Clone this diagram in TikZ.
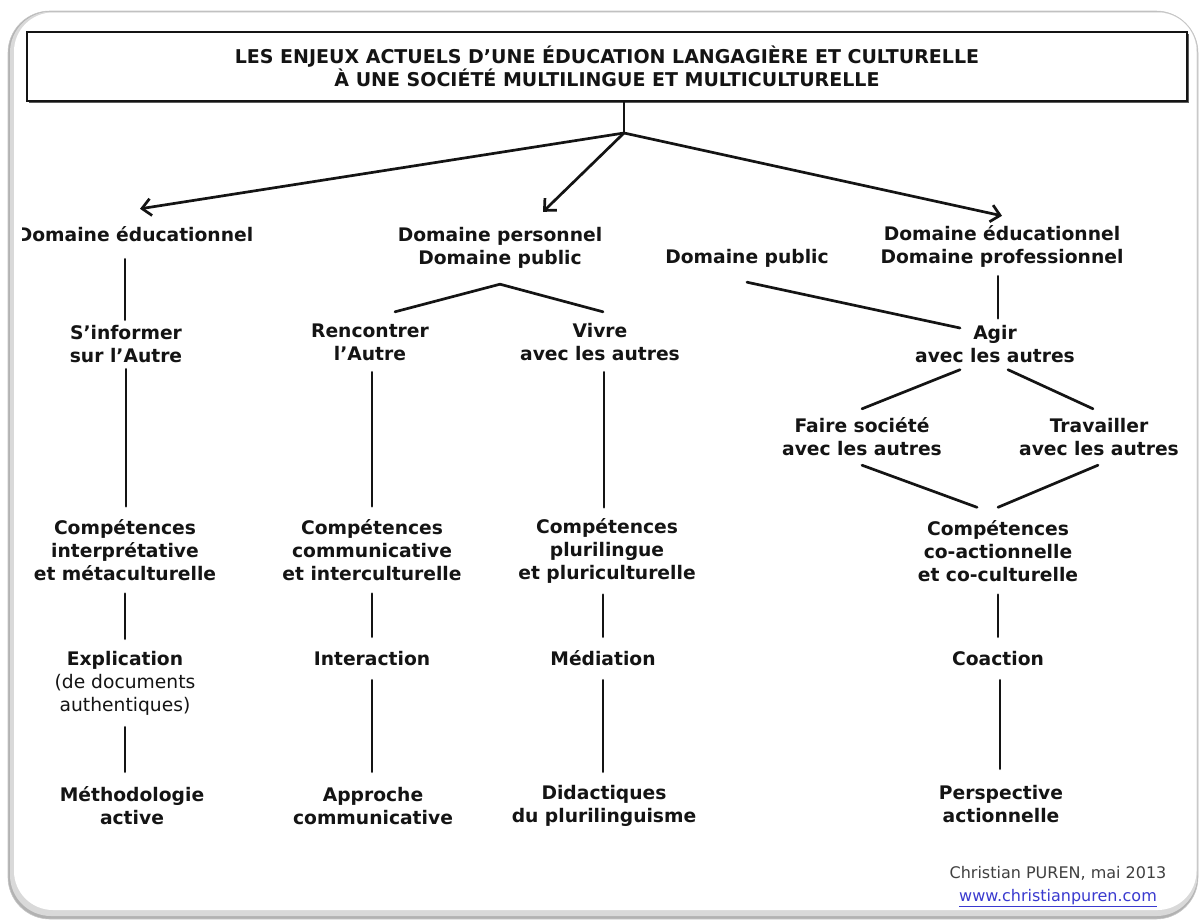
\documentclass[tikz,border=0pt]{standalone}
\usepackage{fontspec}
\setmainfont{DejaVu Sans}
\usetikzlibrary{arrows.meta,calc}
\newcommand\lblfont{\fontsize{18.7}{23}\selectfont\bfseries}
\newcommand\ttlfont{\fontsize{19}{23}\selectfont\bfseries}
\newcommand\crfont{\fontsize{16}{20}\selectfont}
\definecolor{ink}{HTML}{141414}
\definecolor{urlblue}{HTML}{3A3ACF}
\begin{document}
\begin{tikzpicture}[x=1pt,y=-1pt,
  lbl/.style={inner sep=0pt, align=center, font=\lblfont, text=ink},
  titlebox/.style={draw=ink, line width=2.8pt, fill=white, inner sep=0pt, align=center,
    font=\ttlfont, text=ink, minimum width=1160pt, minimum height=69pt},
  conn/.style={line width=2.7pt, draw=ink, line cap=round},
  arr/.style={conn, -{Straight Barb[length=9pt,width=17pt]}},
  credit/.style={inner sep=0pt, font=\crfont, text=black!75}]
\useasboundingbox (0,0) rectangle (1200,922);
% outer frame with soft shadow
\fill[gray!60, rounded corners=42pt] (8,11) rectangle (1198,919);
\fill[gray!30, rounded corners=41pt] (10,11.5) rectangle (1197.5,916);
\fill[white, rounded corners=39pt] (14,12.5) rectangle (1196.5,910);
\draw[gray!45, line width=0.6pt, rounded corners=42pt] (8,11) rectangle (1198,919);
\begin{scope}
\clip (22,0) rectangle (1200,922);
% title
\fill[ink!70] (29,34) rectangle (1189,103);
\node[titlebox] (T) at (607,66.5) {LES ENJEUX ACTUELS D’UNE ÉDUCATION LANGAGIÈRE ET CULTURELLE\\À UNE SOCIÉTÉ MULTILINGUE ET MULTICULTURELLE};
\coordinate (j0) at (624,133);
% column A
\node[lbl, minimum height=50pt] (A1) at (135,234) {Domaine éducationnel};
\node[lbl, minimum height=49pt] (A2) at (126,344.5) {S’informer\\sur l’Autre};
\node[lbl, minimum height=87pt] (A3) at (125,550) {Compétences\\interprétative\\et métaculturelle};
\node[lbl, minimum height=88pt] (A4) at (125,683) {Explication\\{\mdseries (de documents}\\{\mdseries authentiques)}};
\node[lbl, minimum height=68pt] (A5) at (132,806) {Méthodologie\\active};
% column B / C
\node[lbl, minimum height=72pt] (B1) at (500,248) {Domaine personnel\\Domaine public};
\node[lbl, minimum height=60pt] (B2) at (370,342) {Rencontrer\\l’Autre};
\node[lbl, minimum height=60pt] (B3) at (600,342) {Vivre\\avec les autres};
\node[lbl, minimum height=87pt] (B4) at (372,550) {Compétences\\communicative\\et interculturelle};
\node[lbl, minimum height=43pt] (B5) at (372,658.5) {Interaction};
\node[lbl, minimum height=68pt] (B6) at (373,806) {Approche\\communicative};
\node[lbl, minimum height=87pt] (C4) at (607,551) {Compétences\\plurilingue\\et pluriculturelle};
\node[lbl, minimum height=43pt] (C5) at (603,658.5) {Médiation};
\node[lbl, minimum height=68pt] (C6) at (604,806) {Didactiques\\du plurilinguisme};
% column D
\node[lbl, minimum height=48pt] (D0) at (747,258) {Domaine public};
\node[lbl, minimum height=60pt] (D1) at (1002,246) {Domaine éducationnel\\Domaine professionnel};
\node[lbl, minimum height=51pt] (D2) at (995,344) {Agir\\avec les autres};
\node[lbl, minimum height=56pt] (D3) at (862,437) {Faire société\\avec les autres};
\node[lbl, minimum height=56pt] (D4) at (1099,437) {Travailler\\avec les autres};
\node[lbl, minimum height=87pt] (D5) at (998,551) {Compétences\\co-actionnelle\\et co-culturelle};
\node[lbl, minimum height=43pt] (D6) at (998,658.5) {Coaction};
\node[lbl, minimum height=70pt] (D7) at (1001,804) {Perspective\\actionnelle};
% credit
\node[credit] (cr) at (1058,873) {Christian PUREN, mai 2013};
\node[credit, text=urlblue] (url) at (1058,898) {\underline{www.christianpuren.com}};
% connectors
\draw[conn] ([xshift=17pt]T.south) -- (j0);
\draw[arr] (j0) -- ([xshift=5pt]A1.north);
\draw[arr] (j0) -- ([xshift=43pt]B1.north);
\draw[arr] (j0) -- (D1.north);
\draw[conn] ([xshift=-10pt]A1.south) -- ([xshift=-10pt]A1.south |- A2.north);
\draw[conn] (A2.south) -- (A2.south |- A3.north);
\draw[conn] (A3.south) -- (A3.south |- A4.north);
\draw[conn] (A4.south) -- (A4.south |- A5.north);
\draw[conn] (B1.south) -- ([xshift=25pt]B2.north);
\draw[conn] (B1.south) -- ([xshift=3pt]B3.north);
\draw[conn] (B4.north |- B2.south) -- (B4.north);
\draw[conn] (B4.south) -- (B4.south |- B5.north);
\draw[conn] (B5.south) -- (B5.south |- B6.north);
\draw[conn] ([xshift=4pt]B3.south) -- ([xshift=4pt]B3.south |- C4.north);
\draw[conn] (C5.north |- C4.south) -- (C5.north);
\draw[conn] (C5.south) -- (C5.south |- C6.north);
\draw[conn] (D0.south) -- ($(D2.center)+(-35,-16)$);
\draw[conn] ([xshift=-4pt]D1.south) -- ([xshift=-4pt]D1.south |- D2.north);
\draw[conn] ([xshift=-35pt]D2.south) -- (D3.north);
\draw[conn] ([xshift=13pt]D2.south) -- ([xshift=-6pt]D4.north);
\draw[conn] (D3.south) -- ([xshift=-21pt]D5.north);
\draw[conn] ([xshift=-1pt]D4.south) -- (D5.north);
\draw[conn] (D5.south) -- (D5.south |- D6.north);
\draw[conn] ([xshift=2pt]D6.south) -- ([xshift=2pt]D6.south |- D7.north);
\end{scope}
\end{tikzpicture}
\end{document}
